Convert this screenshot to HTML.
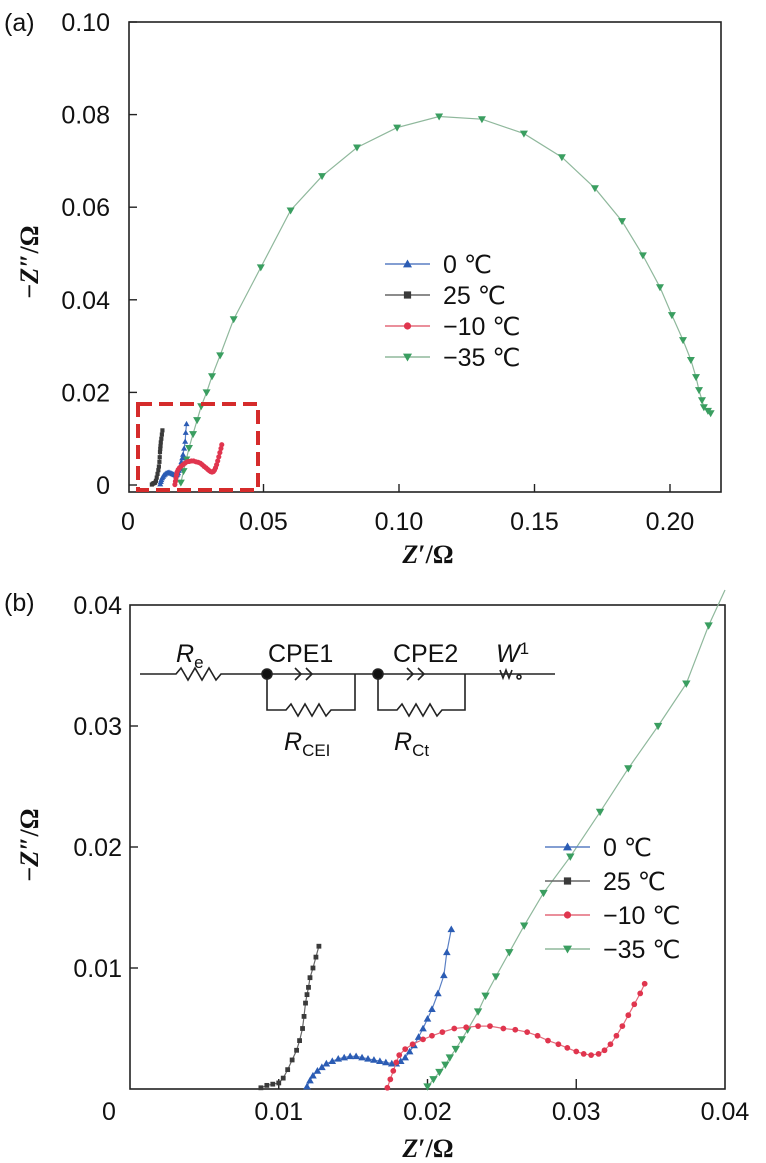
<!DOCTYPE html>
<html><head><meta charset="utf-8"><style>
html,body{margin:0;padding:0;background:#fff;}
svg{display:block;font-family:"Liberation Sans",sans-serif;}
</style></head><body>
<svg id="fig" width="766" height="1163" viewBox="0 0 766 1163">
</svg>
<script>
// ---- data (Z', -Z'') ----
const a_green_x=[0.0195,0.0205,0.0215,0.0225,0.024,0.0255,0.027,0.029,0.031,0.034,0.039,0.049,0.060,0.0716,0.0845,0.0993,0.1148,0.1306,0.1461,0.1601,0.1723,0.1823,0.1900,0.1963,0.2007,0.2048,0.2077,0.2096,0.2107,0.2118,0.2125,0.2140,0.2150];
const a_green_y=[0.0005,0.003,0.0055,0.008,0.011,0.014,0.017,0.020,0.0235,0.028,0.0358,0.047,0.0593,0.0667,0.0729,0.0772,0.0796,0.0790,0.0759,0.0708,0.0641,0.0570,0.0496,0.0427,0.0367,0.0313,0.0270,0.0233,0.0205,0.0183,0.0168,0.0160,0.0155];
const black_x=[0.0088,0.0092,0.0096,0.0100,0.0103,0.0106,0.0109,0.0112,0.0114,0.0116,0.0117,0.0118,0.0119,0.0120,0.0121,0.0123,0.0125,0.0127];
const black_y=[0.0001,0.0003,0.0004,0.0005,0.0009,0.0016,0.0024,0.0032,0.0040,0.0050,0.0060,0.0071,0.0078,0.0084,0.0092,0.0100,0.0109,0.0118];
const blue_x=[0.0119,0.0121,0.0123,0.0126,0.0129,0.0132,0.0136,0.0140,0.0144,0.0148,0.0152,0.0156,0.0160,0.0164,0.0168,0.0172,0.0176,0.0179,0.0182,0.0185,0.0188,0.0191,0.0194,0.0197,0.0200,0.0203,0.0207,0.0211,0.0213,0.0216];
const blue_y=[0.0002,0.0007,0.0011,0.0015,0.0018,0.0021,0.0023,0.0025,0.0026,0.0027,0.0027,0.0026,0.0025,0.0024,0.0023,0.0022,0.0021,0.0021,0.0023,0.0026,0.0031,0.0036,0.0043,0.0050,0.0058,0.0066,0.0079,0.0094,0.0113,0.0132];
const red_x=[0.0173,0.0175,0.0177,0.0179,0.0181,0.0185,0.0190,0.0197,0.0203,0.0210,0.0218,0.0226,0.0234,0.0242,0.0251,0.0259,0.0267,0.0274,0.0281,0.0288,0.0294,0.0300,0.0305,0.0310,0.0315,0.0319,0.0323,0.0327,0.0331,0.0335,0.0339,0.0343,0.0346];
const red_y=[0.0001,0.0008,0.0015,0.0022,0.0028,0.0033,0.0037,0.0041,0.0044,0.0047,0.0050,0.0051,0.0052,0.0052,0.0050,0.0049,0.0047,0.0044,0.0040,0.0037,0.0034,0.0031,0.0029,0.0028,0.0029,0.0032,0.0037,0.0044,0.0052,0.0061,0.0070,0.0079,0.0087];
const b_green_x=[0.0200,0.0204,0.0208,0.0212,0.0215,0.0219,0.0223,0.0227,0.0234,0.0239,0.0246,0.0255,0.0265,0.0278,0.0296,0.0316,0.0335,0.0355,0.0374,0.0389];
const b_green_y=[0.0002,0.0008,0.0014,0.0020,0.0026,0.0033,0.0041,0.0049,0.0064,0.0077,0.0093,0.0113,0.0135,0.0162,0.0192,0.0229,0.0265,0.0300,0.0335,0.0383];
const a_xticks=[0,0.05,0.10,0.15,0.20];
const a_xlabels=["0","0.05","0.10","0.15","0.20"];
const a_yticks=[0,0.02,0.04,0.06,0.08,0.10];
const a_ylabels=["0","0.02","0.04","0.06","0.08","0.10"];
const b_xticks=[0,0.01,0.02,0.03,0.04];
const b_xlabels=["0","0.01","0.02","0.03","0.04"];
const b_yticks=[0.01,0.02,0.03,0.04];
const b_ylabels=["0.01","0.02","0.03","0.04"];
const legendLabels=["0 ℃","25 ℃","−10 ℃","−35 ℃"];

const NS="http://www.w3.org/2000/svg";
const svg=document.getElementById('fig');
function mk(tag,attrs,parent,text){const e=document.createElementNS(NS,tag);for(const k in attrs)e.setAttribute(k,attrs[k]);if(text!==undefined)e.textContent=text;(parent||svg).appendChild(e);return e;}

const COL={blue:"#2b5cb4",black:"#3a3a3a",red:"#e0354e",green:"#3a9e60"};
const LINE={blue:"#5a7fc4",black:"#666",red:"#e46a7a",green:"#8fb89c"};

function marker(g,type,cx,cy,s,color){
  let e;
  if(type==="tri"){e=mk('polygon',{points:`${cx},${cy-s} ${cx-s},${cy+s*0.75} ${cx+s},${cy+s*0.75}`,fill:color},g);}
  else if(type==="itri"){e=mk('polygon',{points:`${cx},${cy+s} ${cx-s},${cy-s*0.75} ${cx+s},${cy-s*0.75}`,fill:color},g);}
  else if(type==="sq"){e=mk('rect',{x:cx-s*0.8,y:cy-s*0.8,width:s*1.6,height:s*1.6,fill:color},g);}
  else {e=mk('circle',{cx:cx,cy:cy,r:s*0.8,fill:color},g);}
  
  
}
function series(name,xs,ys,X,Y,key,type,s,ext){
  const g=mk('g',{});
  
  
  let pts=xs.map((x,i)=>X(x).toFixed(1)+","+Y(ys[i]).toFixed(1)).join(" ");
  if(ext) pts+=" "+ext;
  mk('polyline',{points:pts,fill:"none",stroke:LINE[key],"stroke-width":1.2},g);
  xs.forEach((x,i)=>marker(g,type,X(x),Y(ys[i]),s,COL[key]));
}
function legend(name,x0,y0,dy,fs){
  const g=mk('g',{});
  
  
  const keys=["blue","black","red","green"],types=["tri","sq","dot","itri"];
  legendLabels.forEach((lab,i)=>{
    const y=y0+i*dy;
    const e=mk('g',{},g);
    
    
    mk('line',{x1:x0,y1:y,x2:x0+45,y2:y,stroke:LINE[keys[i]],"stroke-width":1.5},e);
    marker(e,types[i],x0+22.5,y,4.5,COL[keys[i]]);
    mk('text',{x:x0+58,y:y+9,"font-size":fs,fill:"#111"},e,lab);
  });
}
function axesFrame(name,L,T,R,B){
  const r=mk('rect',{x:L,y:T,width:R-L,height:B-T,fill:"none",stroke:"#222","stroke-width":1.6});
  
  
}

// ---- Panel (a) ----
const aL=129,aR=721,aT=22,aB=492;
const Xa=v=>128+v*2710, Ya=v=>485-v*4630;
axesFrame('plot-frame-a',aL,aT,aR,aB);
a_yticks.forEach((t,i)=>{
  mk('line',{x1:aL,y1:Ya(t),x2:aL+8,y2:Ya(t),stroke:"#222","stroke-width":1.4});
  const tx=mk('text',{x:110,y:Ya(t)+9,"font-size":25,"text-anchor":"end",fill:"#111"},svg,a_ylabels[i]);
  
  
});
a_xticks.forEach((t,i)=>{
  if(t>0) mk('line',{x1:Xa(t),y1:aB,x2:Xa(t),y2:aB-8,stroke:"#222","stroke-width":1.4});
  const tx=mk('text',{x:Xa(t),y:530,"font-size":25,"text-anchor":"middle",fill:"#111"},svg,a_xlabels[i]);
  
  
});
series('series-35c-a',a_green_x,a_green_y,Xa,Ya,'green','itri',4);
series('series-25c-a',black_x,black_y,Xa,Ya,'black','sq',2.6);
series('series-0c-a',blue_x,blue_y,Xa,Ya,'blue','tri',3);
series('series-m10c-a',red_x,red_y,Xa,Ya,'red','dot',3.2);
const zr=mk('rect',{x:138,y:404,width:120,height:86,fill:"none",stroke:"#d52b2b","stroke-width":4,"stroke-dasharray":"14 7"});


legend('legend-a',385,264,31,25);

// ---- Panel (b) ----
const bL=130,bR=725,bT=605,bB=1089;
const Xb=v=>130+v*14875, Yb=v=>1089-v*12100;
axesFrame('plot-frame-b',bL,bT,bR,bB);
b_yticks.forEach((t,i)=>{
  if(t<0.04) mk('line',{x1:bL,y1:Yb(t),x2:bL+8,y2:Yb(t),stroke:"#222","stroke-width":1.4});
  const tx=mk('text',{x:122,y:Yb(t)+9,"font-size":25,"text-anchor":"end",fill:"#111"},svg,b_ylabels[i]);
  
  
});
b_xticks.forEach((t,i)=>{
  if(t>0&&t<0.04) mk('line',{x1:Xb(t),y1:bB,x2:Xb(t),y2:bB-10,stroke:"#222","stroke-width":1.4});
  const px=t===0?109:Xb(t);
  const tx=mk('text',{x:px,y:1120,"font-size":25,"text-anchor":"middle",fill:"#111"},svg,b_xlabels[i]);
  
  
});
series('series-35c-b',b_green_x,b_green_y,Xb,Yb,'green','itri',4.2,"725,590");
series('series-25c-b',black_x,black_y,Xb,Yb,'black','sq',3);
series('series-0c-b',blue_x,blue_y,Xb,Yb,'blue','tri',3.8);
series('series-m10c-b',red_x,red_y,Xb,Yb,'red','dot',3.6);
legend('legend-b',545,847,34,25);
</script>
<svg width="766" height="1163" style="position:absolute;left:0;top:0" font-family="Liberation Sans, sans-serif">
  <text x="4" y="31" font-size="25" fill="#111">(a)</text>
  <text x="4" y="611" font-size="25" fill="#111">(b)</text>
  <text transform="translate(38,262) rotate(-90)" text-anchor="middle" font-family="Liberation Serif, serif" font-size="26" font-weight="bold" fill="#111">−<tspan font-style="italic">Z</tspan>″/Ω</text>
  <text transform="translate(38,845) rotate(-90)" text-anchor="middle" font-family="Liberation Serif, serif" font-size="26" font-weight="bold" fill="#111">−<tspan font-style="italic">Z</tspan>″/Ω</text>
  <text x="428" y="563" text-anchor="middle" font-family="Liberation Serif, serif" font-size="26" font-weight="bold" fill="#111"><tspan font-style="italic">Z</tspan>′/Ω</text>
  <text x="428" y="1157" text-anchor="middle" font-family="Liberation Serif, serif" font-size="26" font-weight="bold" fill="#111"><tspan font-style="italic">Z</tspan>′/Ω</text>
  <g stroke="#222" stroke-width="1.6" fill="none">
    <path d="M140,674 H176 l5,-6 l7,12 l7,-12 l7,12 l7,-12 l7,12 l5,-6 H555"/>
    <path d="M267,674 V710 H286 l5,-6 l7,12 l7,-12 l7,12 l7,-12 l7,12 l5,-6 H355 V674"/>
    <path d="M378,674 V710 H397 l5,-6 l7,12 l7,-12 l7,12 l7,-12 l7,12 l5,-6 H465 V674"/>
    <path d="M295,668 l6,6 l-6,6 M306,668 l6,6 l-6,6"/>
    <path d="M407,668 l6,6 l-6,6 M418,668 l6,6 l-6,6"/>
    <path d="M500,670 l3,8 l3,-8 l3,8 l3,-8"/>
    <circle cx="519" cy="677" r="2"/>
    <circle cx="267" cy="674" r="5" fill="#111"/>
    <circle cx="378" cy="674" r="5" fill="#111"/>
  </g>
  <g font-size="25" fill="#111">
    <text x="176" y="662"><tspan font-style="italic">R</tspan><tspan font-size="17" dy="6">e</tspan></text>
    <text x="268" y="662">CPE1</text>
    <text x="393" y="662">CPE2</text>
    <text x="496" y="662"><tspan font-style="italic">W</tspan><tspan font-size="17" dy="-8">1</tspan></text>
    <text x="284" y="750"><tspan font-style="italic">R</tspan><tspan font-size="17" dy="6">CEI</tspan></text>
    <text x="394" y="750"><tspan font-style="italic">R</tspan><tspan font-size="17" dy="6">Ct</tspan></text>
  </g>
</svg>
</body></html>
